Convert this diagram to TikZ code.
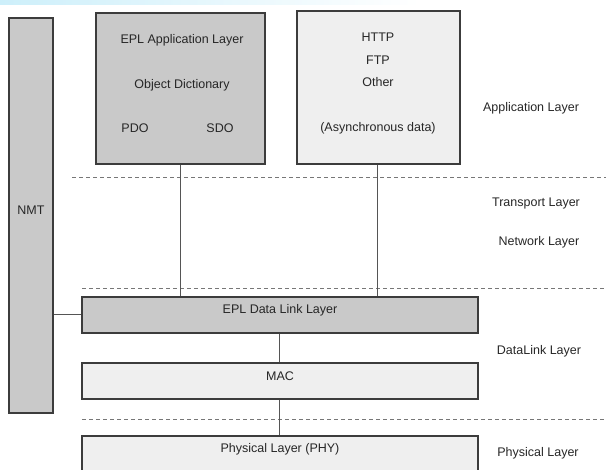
\documentclass[tikz,border=0pt]{standalone}
\usepackage{fontspec}
\setmainfont{Liberation Sans}
\begin{document}
\begin{tikzpicture}[x=1pt,y=-1pt,
  font=\fontsize{12.5}{14}\selectfont,
  box/.style={draw=boxline, line width=1.3pt, inner sep=0pt, rectangle},
  darkbox/.style={box, fill=darkfill},
  lightbox/.style={box, fill=lightfill},
  txt/.style={text=txtcol, inner sep=0pt, anchor=center},
  conn/.style={draw=connline, line width=0.9pt},
  sep/.style={draw=dashcol, line width=0.9pt, dash pattern=on 4pt off 3pt}]
\definecolor{boxline}{HTML}{3C3C3C}
\definecolor{darkfill}{HTML}{C9C9C9}
\definecolor{lightfill}{HTML}{EFEFEF}
\definecolor{txtcol}{HTML}{262626}
\definecolor{connline}{HTML}{555555}
\definecolor{dashcol}{HTML}{777777}
\definecolor{topband}{HTML}{CDEFFA}
\useasboundingbox (0,0) rectangle (606,470);
\begin{scope}
\clip (0,0) rectangle (606,470);
\fill[left color=topband, right color=white] (0,0) rectangle (420,5);
% layer separators
\coordinate (s1a) at (72,177);  \coordinate (s1b) at (606,177);
\coordinate (s2a) at (82,288);  \coordinate (s2b) at (606,288);
\coordinate (s3a) at (82,419);  \coordinate (s3b) at (606,419);
\path[sep] (s1a) -- (s1b);
\path[sep] (s2a) -- (s2b);
\path[sep] (s3a) -- (s3b);
% boxes
\node[darkbox, minimum width=44pt, minimum height=395pt] (nmt) at (31,215.5) {};
\node[darkbox, minimum width=169pt, minimum height=151pt] (app) at (180.5,88.5) {};
\node[lightbox, minimum width=163pt, minimum height=153pt] (other) at (378.5,87.5) {};
\node[darkbox, minimum width=396pt, minimum height=36pt] (dl) at (280,315) {};
\node[lightbox, minimum width=396pt, minimum height=36pt] (mac) at (280,381) {};
\node[lightbox, minimum width=396pt, minimum height=40pt] (phy) at (280,456) {};
% connectors
\path[conn] (app.south -| 180,0) -- (dl.north -| 180,0);
\path[conn] (other.south -| 377,0) -- (dl.north -| 377,0);
\path[conn] (dl.south -| 279,0) -- (mac.north -| 279,0);
\path[conn] (mac.south -| 279,0) -- (phy.north -| 279,0);
\path[conn] (nmt.east |- 0,314) -- (dl.west |- 0,314);
% texts in boxes
\node[txt] (tnmt) at (31,210) {NMT};
\node[txt] (tepl) at (182,40) {EPL Application Layer};
\node[txt] (tod) at (182,85) {Object Dictionary};
\node[txt] (tpdo) at (135,128) {PDO};
\node[txt] (tsdo) at (220,128) {SDO};
\node[txt] (thttp) at (378,37) {HTTP};
\node[txt] (tftp) at (378,60) {FTP};
\node[txt] (tother) at (378,82) {Other};
\node[txt] (tasync) at (378,128) {(Asynchronous data)};
\node[txt] (tdl) at (280,310) {EPL Data Link Layer};
\node[txt] (tmac) at (280,376) {MAC};
\node[txt] (tphy) at (280,449) {Physical Layer (PHY)};
% layer names
\node[txt] (lapp) at (531,108) {Application Layer};
\node[txt] (ltr) at (536,203) {Transport Layer};
\node[txt] (lnet) at (539,242) {Network Layer};
\node[txt] (ldl) at (539,351) {DataLink Layer};
\node[txt] (lphy) at (538,453) {Physical Layer};
\end{scope}
\end{tikzpicture}
\end{document}
